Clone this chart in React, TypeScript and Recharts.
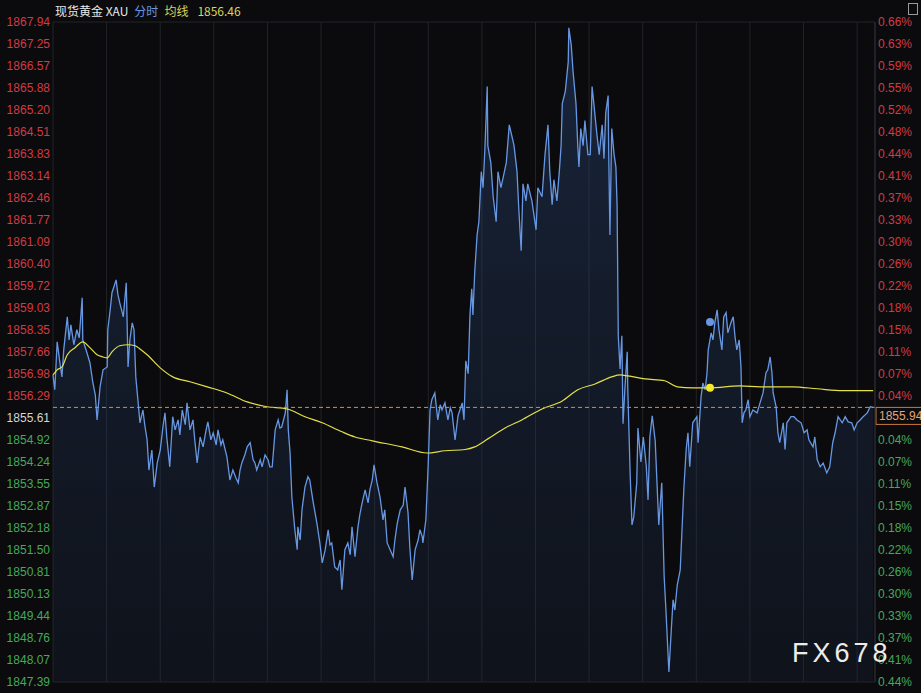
import React from 'react';
import { ComposedChart, Area, Line, XAxis, YAxis, CartesianGrid, ReferenceLine, ReferenceDot } from 'recharts';

// left axis price ticks (top -> bottom)
const priceTicks = [
  1867.94, 1867.25, 1866.57, 1865.88, 1865.2, 1864.51, 1863.83, 1863.14, 1862.46, 1861.77,
  1861.09, 1860.4, 1859.72, 1859.03, 1858.35, 1857.66, 1856.98, 1856.29, 1855.61, 1854.92,
  1854.24, 1853.55, 1852.87, 1852.18, 1851.5, 1850.81, 1850.13, 1849.44, 1848.76, 1848.07, 1847.39,
];

// right axis percent labels, same order (0.00% hidden behind the price tag)
const pctLabels = [
  '0.66%', '0.63%', '0.59%', '0.55%', '0.52%', '0.48%', '0.44%', '0.41%', '0.37%', '0.33%',
  '0.30%', '0.26%', '0.22%', '0.18%', '0.15%', '0.11%', '0.07%', '0.04%', '', '0.04%',
  '0.07%', '0.11%', '0.15%', '0.18%', '0.22%', '0.26%', '0.30%', '0.33%', '0.37%', '0.41%', '0.44%',
];

// minute of session, every 90 min a grid line
const timeTicks = [0, 90, 180, 270, 360, 450, 540, 630, 720, 810, 900, 990, 1080, 1170, 1260, 1350];

const prevClose = 1855.61;
const lastPrice = 1855.94;
const avgLast = 1856.46;

// [minute, price]
const morningPrices: [number, number][] = [
  [0, 1856.95], [3, 1856.49], [7, 1857.98], [12, 1857.27], [15, 1856.89], [18, 1857.73], [24, 1858.76],
  [27, 1858.04], [30, 1858.51], [35, 1857.89], [40, 1858.36], [44, 1858.11], [49, 1859.35], [50, 1858.04],
  [57, 1857.64], [62, 1857.33], [67, 1856.7], [71, 1856.33], [74, 1855.55], [79, 1856.58], [84, 1857.11],
  [91, 1857.2], [92, 1858.36], [96, 1858.98], [99, 1859.51], [106, 1859.91], [109, 1859.45], [112, 1859.2],
  [118, 1858.76], [123, 1859.82], [126, 1857.2], [129, 1858.04], [133, 1858.57], [136, 1858.36], [139, 1856.89],
  [143, 1856.08], [146, 1855.46], [151, 1855.86], [154, 1855.4], [158, 1854.93], [161, 1853.99], [166, 1854.61],
  [170, 1853.46], [175, 1854.21], [180, 1854.61], [185, 1855.4], [188, 1855.77], [191, 1855.02], [196, 1854.09],
  [201, 1855.65], [205, 1855.24], [210, 1855.55], [213, 1855.08], [217, 1855.86], [222, 1855.4], [225, 1856.08],
  [230, 1855.24], [235, 1855.55], [238, 1854.93], [242, 1854.21], [247, 1855.02], [252, 1854.71], [257, 1855.24],
  [260, 1855.49], [265, 1854.93], [269, 1855.15], [274, 1854.77], [277, 1855.24], [282, 1854.77], [285, 1854.93],
  [292, 1854.4], [297, 1853.68], [302, 1853.99], [307, 1853.75], [311, 1853.59], [314, 1853.99], [317, 1854.21],
  [322, 1854.46], [326, 1854.71], [331, 1854.84], [336, 1854.31], [339, 1854.21], [342, 1853.99], [348, 1854.31],
  [351, 1854.09], [356, 1854.46], [361, 1854.31], [364, 1854.09], [368, 1854.09], [373, 1855.24], [378, 1855.55],
  [381, 1855.3], [384, 1855.33], [390, 1855.77], [393, 1856.49], [395, 1855.24], [398, 1854.52],
];

const middayPrices: [number, number][] = [
  [401, 1853.15], [406, 1852.13], [410, 1851.51], [411, 1852.22], [415, 1851.81], [418, 1852.75], [423, 1853.46],
  [428, 1853.78], [431, 1853.68], [437, 1852.97], [443, 1852.34], [448, 1851.72], [452, 1851.1], [457, 1851.51],
  [462, 1852.13], [465, 1851.66], [468, 1851.72], [473, 1850.97], [478, 1850.88], [482, 1851.19], [485, 1850.26],
  [490, 1851.51], [495, 1851.72], [499, 1851.35], [502, 1852.22], [507, 1851.29], [512, 1852.22], [515, 1852.59],
  [519, 1852.97], [524, 1853.37], [529, 1852.97], [532, 1853.37], [536, 1853.68], [539, 1854.15], [544, 1853.59],
  [549, 1853.15], [554, 1852.44], [557, 1852.75], [561, 1851.72], [566, 1851.51], [571, 1851.29], [574, 1851.81],
  [578, 1852.34], [583, 1852.75], [588, 1852.9], [591, 1853.46], [596, 1852.66], [599, 1851.6], [603, 1850.57],
  [608, 1851.51], [613, 1851.81], [616, 1852.13], [620, 1851.91], [621, 1851.72], [626, 1852.44], [630, 1854.21],
  [633, 1855.86], [636, 1856.18], [641, 1856.39], [646, 1855.55], [650, 1856.02], [653, 1855.86], [658, 1856.08],
  [663, 1855.55], [667, 1855.93], [670, 1855.77], [675, 1854.93], [680, 1855.68], [687, 1856.08], [690, 1855.55],
  [693, 1857.39], [697, 1856.99], [700, 1858.82], [703, 1859.63], [705, 1858.82], [708, 1860.16], [712, 1861.31],
  [715, 1861.72], [719, 1863.28], [722, 1862.78], [725, 1863.96], [729, 1865.93], [730, 1864.09], [735, 1863.56],
  [739, 1862.5], [744, 1861.72], [747, 1863.28], [752, 1862.78], [755, 1863.03], [761, 1863.56], [766, 1864.74],
];

const eveningPrices: [number, number][] = [
  [771, 1864.34], [774, 1864.09], [779, 1863.28], [782, 1862.12], [786, 1860.82], [789, 1862.9], [794, 1862.37],
  [797, 1862.9], [804, 1862.37], [811, 1861.47], [814, 1862.78], [821, 1862.5], [826, 1863.81], [831, 1864.74],
  [834, 1863.28], [838, 1862.25], [841, 1863.03], [846, 1862.37], [850, 1863.28], [853, 1864.09], [855, 1865.4],
  [860, 1865.77], [865, 1866.7], [866, 1867.76], [870, 1867.23], [873, 1866.42], [878, 1865.4], [881, 1864.09],
  [883, 1863.43], [886, 1864.62], [890, 1864.09], [893, 1864.87], [898, 1863.81], [902, 1863.81], [905, 1865.93],
  [908, 1865.4], [913, 1864.46], [917, 1863.81], [922, 1864.74], [925, 1863.68], [928, 1865.12], [932, 1865.65],
  [933, 1863.81], [935, 1861.31], [938, 1864.62], [942, 1863.81], [945, 1863.43], [947, 1862.25], [949, 1858.17],
  [952, 1857.14], [955, 1858.17], [957, 1855.43], [960, 1856.49], [964, 1857.67], [965, 1856.49], [969, 1853.84],
  [972, 1852.28], [975, 1852.53], [980, 1853.59], [982, 1855.3], [987, 1854.24], [991, 1855.02], [996, 1854.12],
  [999, 1853.06], [1002, 1855.02], [1006, 1855.68], [1011, 1854.9], [1014, 1853.59], [1017, 1852.28], [1022, 1853.59],
  [1026, 1850.69], [1029, 1849.63], [1034, 1847.7], [1038, 1849.01], [1041, 1849.95], [1044, 1849.63], [1048, 1850.41],
  [1053, 1850.88], [1056, 1852.13], [1059, 1853.37], [1063, 1854.63], [1066, 1855.15], [1069, 1854.09], [1074, 1855.46],
];

const nightPrices: [number, number][] = [
  [1081, 1855.65], [1083, 1854.84], [1088, 1856.27], [1091, 1856.7], [1095, 1856.49], [1098, 1857.02], [1100, 1857.73],
  [1105, 1858.26], [1108, 1858.04], [1111, 1858.57], [1115, 1858.98], [1118, 1858.36], [1123, 1857.73], [1126, 1858.76],
  [1130, 1858.89], [1133, 1858.26], [1138, 1858.57], [1142, 1858.76], [1145, 1858.14], [1148, 1857.73], [1152, 1858.04],
  [1155, 1857.2], [1157, 1855.46], [1160, 1855.77], [1163, 1855.86], [1167, 1856.18], [1170, 1855.65], [1175, 1855.86],
  [1182, 1855.77], [1187, 1856.08], [1192, 1856.39], [1197, 1857.02], [1200, 1857.11], [1204, 1857.51], [1207, 1857.02],
  [1209, 1856.39], [1214, 1855.96], [1217, 1855.15], [1220, 1854.84], [1226, 1855.46], [1229, 1854.63], [1232, 1855.46],
  [1239, 1855.65], [1244, 1855.65], [1249, 1855.55], [1256, 1855.46], [1261, 1855.15], [1266, 1855.24], [1269, 1854.93],
  [1276, 1854.71], [1279, 1855.02], [1283, 1854.31], [1288, 1854.09], [1293, 1854.21], [1299, 1853.9], [1304, 1854.09],
  [1309, 1854.84], [1313, 1855.15], [1318, 1855.65], [1325, 1855.46], [1330, 1855.65], [1335, 1855.49], [1341, 1855.46],
  [1345, 1855.24], [1350, 1855.46], [1355, 1855.55], [1360, 1855.65], [1367, 1855.77], [1372, 1855.96], [1377, 1855.94],
];

// 均线 (average price)
const avgPrices: [number, number][] = [
  [0, 1856.95], [7, 1857.11], [15, 1857.2], [24, 1857.58], [37, 1857.8], [50, 1857.98], [62, 1857.8], [74, 1857.58],
  [84, 1857.51], [91, 1857.48], [99, 1857.67], [112, 1857.86], [126, 1857.89], [138, 1857.86], [146, 1857.76],
  [158, 1857.58], [180, 1857.17], [201, 1856.89], [230, 1856.74], [259, 1856.58], [292, 1856.39], [326, 1856.11],
  [359, 1855.96], [393, 1855.89], [423, 1855.65], [452, 1855.46], [485, 1855.18], [507, 1855.02], [536, 1854.9],
  [586, 1854.71], [628, 1854.52], [658, 1854.59], [692, 1854.63], [708, 1854.71], [730, 1854.96], [759, 1855.3],
  [787, 1855.55], [821, 1855.89], [855, 1856.14], [881, 1856.49], [910, 1856.67], [938, 1856.89], [952, 1856.95],
  [965, 1856.92], [994, 1856.83], [1027, 1856.77], [1048, 1856.58], [1074, 1856.55], [1103, 1856.55], [1153, 1856.61],
  [1187, 1856.58], [1242, 1856.58], [1283, 1856.52], [1326, 1856.46], [1377, avgLast],
];

// hover markers
const cursorTime = 1103;
const cursorPrice = 1858.6;
const cursorAvg = 1856.55;

const rows: Record<number, { t: number; price?: number; avg?: number }> = {};
[...morningPrices, ...middayPrices, ...eveningPrices, ...nightPrices].forEach(([t, p]) => {
  rows[t] = { ...(rows[t] || { t }), price: p };
});
avgPrices.forEach(([t, a]) => {
  rows[t] = { ...(rows[t] || { t }), avg: a };
});
const data = Object.values(rows).sort((a, b) => a.t - b.t);

const RED = '#d23a44';
const GREEN = '#45a85c';
const NEUTRAL = '#d4d4d4';
const BLUE = '#6797e3';
const YELLOW = '#e3e048';
const FONT = '"Liberation Sans", Arial, sans-serif';

const tickColor = (v: number) => (v > prevClose + 0.001 ? RED : v < prevClose - 0.001 ? GREEN : NEUTRAL);

const LeftTick = (props: any) => {
  const { x, y, payload } = props;
  const v = payload.value as number;
  return (
    <text x={x} y={y} dy={4} textAnchor="end" fill={tickColor(v)} fontSize={12} fontFamily={FONT}>
      {v.toFixed(2)}
    </text>
  );
};

const RightTick = (props: any) => {
  const { x, y, payload } = props;
  const v = payload.value as number;
  const i = priceTicks.indexOf(v);
  return (
    <text x={x} y={y} dy={4} textAnchor="start" fill={tickColor(v)} fontSize={12} fontFamily={FONT}>
      {pctLabels[i]}
    </text>
  );
};

const PriceTag = (props: any) => {
  const { viewBox } = props;
  if (!viewBox) return null;
  const x = viewBox.x + viewBox.width + 1;
  const y = viewBox.y;
  return (
    <g>
      <rect x={x} y={y} width={48} height={17} fill="#0b0b0d" stroke="#c9793c" strokeWidth={1} />
      <text x={x + 3} y={y + 13} fill="#e2a57c" fontSize={12} fontFamily={FONT}>
        {lastPrice.toFixed(2)}
      </text>
    </g>
  );
};

export default function App() {
  return (
    <div style={{ position: 'relative', width: 921, height: 693, background: '#0b0b0d', overflow: 'hidden' }}>
      <style>{'body{margin:0;background:#0b0b0d}'}</style>
      <ComposedChart width={921} height={693} data={data} margin={{ top: 22, right: 0, bottom: 11, left: 0 }}>
        <defs>
          <linearGradient id="priceFill" x1="0" y1="0" x2="0" y2="1">
            <stop offset="0%" stopColor="#2f5188" stopOpacity={0.62} />
            <stop offset="100%" stopColor="#1b2945" stopOpacity={0.42} />
          </linearGradient>
        </defs>
        <CartesianGrid stroke="#232428" strokeWidth={1} />
        <XAxis
          dataKey="t"
          type="number"
          domain={[0, 1380]}
          ticks={timeTicks}
          hide
        />
        <YAxis
          yAxisId="left"
          orientation="left"
          width={53}
          domain={[priceTicks[priceTicks.length - 1], priceTicks[0]]}
          ticks={priceTicks}
          interval={0}
          tick={<LeftTick />}
          tickSize={0}
          tickMargin={3}
          axisLine={false}
          allowDataOverflow
        />
        <YAxis
          yAxisId="right"
          orientation="right"
          width={46}
          domain={[priceTicks[priceTicks.length - 1], priceTicks[0]]}
          ticks={priceTicks}
          interval={0}
          tick={<RightTick />}
          tickSize={0}
          tickMargin={3}
          axisLine={{ stroke: '#2e2f33' }}
          allowDataOverflow
        />
        <Area
          yAxisId="left"
          type="linear"
          dataKey="price"
          stroke={BLUE}
          strokeWidth={1.3}
          fill="url(#priceFill)"
          connectNulls
          dot={false}
          activeDot={false}
          isAnimationActive={false}
        />
        <Line
          yAxisId="left"
          type="monotone"
          dataKey="avg"
          stroke={YELLOW}
          strokeWidth={1.2}
          connectNulls
          dot={false}
          activeDot={false}
          isAnimationActive={false}
        />
        <ReferenceLine
          yAxisId="left"
          y={lastPrice}
          stroke="#dc8a45"
          strokeWidth={1}
          strokeDasharray="4 3"
          label={<PriceTag />}
        />
        <ReferenceDot yAxisId="left" x={cursorTime} y={cursorPrice} r={4} fill={BLUE} stroke="none" />
        <ReferenceDot yAxisId="left" x={cursorTime} y={cursorAvg} r={4} fill="#f3ea2a" stroke="none" />
      </ComposedChart>
      <div
        style={{
          position: 'absolute',
          left: 55,
          top: 3,
          fontSize: 12,
          fontFamily: '"Noto Sans CJK SC", "Liberation Sans", sans-serif',
          color: '#e8e8e8',
          whiteSpace: 'nowrap',
          lineHeight: '16px',
        }}
      >
        <span>现货黄金 XAU</span>
        <span style={{ color: BLUE, marginLeft: 6 }}>分时</span>
        <span style={{ color: '#d9d45a', marginLeft: 6 }}>均线</span>
        <span style={{ color: '#d9d45a', marginLeft: 9 }}>{avgLast.toFixed(2)}</span>
      </div>
      <div
        style={{
          position: 'absolute',
          right: 3,
          top: 3,
          width: 8,
          height: 10,
          border: '1px solid #9a9a9a',
        }}
      />
      <div
        style={{
          position: 'absolute',
          left: 792,
          top: 638,
          fontSize: 27,
          letterSpacing: 4,
          fontFamily: FONT,
          color: '#ececec',
          lineHeight: '30px',
        }}
      >
        FX678
      </div>
    </div>
  );
}
